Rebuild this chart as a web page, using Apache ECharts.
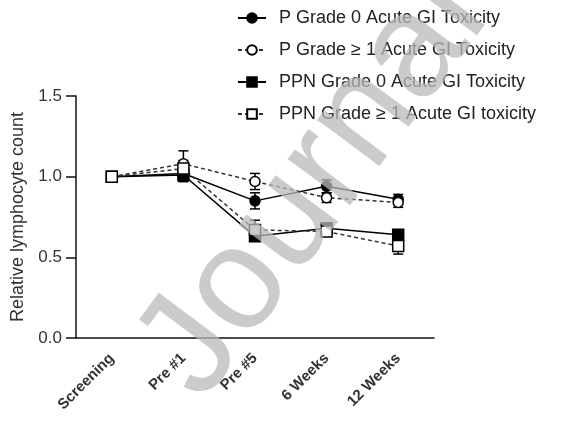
<!DOCTYPE html>
<html>
<head>
<meta charset="utf-8">
<script src="https://cdn.jsdelivr.net/npm/echarts@6/dist/echarts.min.js"></script>
<style>
  html, body { margin: 0; padding: 0; background: #fff; }
  #chart { width: 562px; height: 425px; }
</style>
</head>
<body>
<div id="chart"></div>
<script>
// Time points
const timepoints = ['Screening', 'Pre #1', 'Pre #5', '6 Weeks', '12 Weeks'];

// Series labels
const seriesNames = [
  'P Grade 0 Acute GI Toxicity',
  'P Grade \u2265 1 Acute GI Toxicity',
  'PPN Grade 0 Acute GI Toxicity',
  'PPN Grade \u2265 1 Acute GI toxicity'
];

// Mean relative lymphocyte count per group
const pGrade0 = [1.00, 1.02, 0.85, 0.94, 0.86];
const pGrade1 = [1.00, 1.08, 0.97, 0.87, 0.84];
const ppnGrade0 = [1.00, 1.01, 0.63, 0.68, 0.64];
const ppnGrade1 = [1.00, 1.05, 0.67, 0.66, 0.57];

// Standard error of each mean
const pGrade0Err = [0, 0.05, 0.05, 0.04, 0.03];
const pGrade1Err = [0, 0.08, 0.05, 0.03, 0.03];
const ppnGrade0Err = [0, 0.04, 0.03, 0.03, 0.03];
const ppnGrade1Err = [0, 0.05, 0.06, 0.03, 0.05];

// Y axis ticks
const yMin = 0, yMax = 1.5, yStep = 0.5;

const groups = [
  { name: seriesNames[0], values: pGrade0, err: pGrade0Err, symbol: 'circle', size: 10, fill: '#000', dashed: false },
  { name: seriesNames[1], values: pGrade1, err: pGrade1Err, symbol: 'circle', size: 10, fill: '#fff', dashed: true },
  { name: seriesNames[2], values: ppnGrade0, err: ppnGrade0Err, symbol: 'rect', size: 11, fill: '#000', dashed: false },
  { name: seriesNames[3], values: ppnGrade1, err: ppnGrade1Err, symbol: 'rect', size: 11, fill: '#fff', dashed: true }
];

const FONT = '"Liberation Sans", Arial, sans-serif';

// Vertical error bar with caps, positioned through the axis scales
function errorBarRenderer(params, api) {
  const i = api.value(0);
  const lo = api.coord([i, api.value(1)]);
  const hi = api.coord([i, api.value(2)]);
  const half = 5;
  const style = { stroke: '#000', lineWidth: 1.5 };
  return {
    type: 'group',
    children: [
      { type: 'line', shape: { x1: lo[0], y1: lo[1], x2: hi[0], y2: hi[1] }, style: style },
      { type: 'line', shape: { x1: lo[0] - half, y1: lo[1], x2: lo[0] + half, y2: lo[1] }, style: style },
      { type: 'line', shape: { x1: hi[0] - half, y1: hi[1], x2: hi[0] + half, y2: hi[1] }, style: style }
    ]
  };
}

const series = [];
groups.forEach(function (g) {
  const bars = g.values.map(function (v, i) {
    return [i, v - g.err[i], v + g.err[i]];
  }).filter(function (d, i) { return g.err[i] > 0; });
  series.push({
    type: 'custom',
    name: g.name + ' error',
    renderItem: errorBarRenderer,
    data: bars,
    z: 2,
    silent: true
  });
});
groups.forEach(function (g, k) {
  series.push({
    type: 'line',
    name: g.name,
    data: g.values,
    symbol: g.symbol,
    symbolSize: g.size,
    showAllSymbol: true,
    z: 3 + k,
    lineStyle: {
      color: g.dashed ? '#333' : '#000',
      width: 1.5,
      type: g.dashed ? [4, 3] : 'solid'
    },
    itemStyle: { color: g.fill, borderColor: '#000', borderWidth: 1.5 },
    animation: false
  });
});

const chart = echarts.init(document.getElementById('chart'), null, { renderer: 'canvas' });
chart.setOption({
  animation: false,
  backgroundColor: '#fff',
  grid: { left: 76, right: 128, top: 96, bottom: 87, containLabel: false },
  legend: {
    data: seriesNames,
    orient: 'vertical',
    left: 237,
    top: 9,
    padding: 0,
    itemWidth: 28,
    itemHeight: 12,
    itemGap: 14,
    textStyle: { fontFamily: FONT, fontSize: 18, color: '#222', padding: [0, 0, 0, 8] }
  },
  xAxis: {
    type: 'category',
    data: timepoints,
    boundaryGap: true,
    axisLine: { lineStyle: { color: '#111', width: 1.5 } },
    axisTick: { alignWithLabel: true, length: 9, lineStyle: { color: '#111', width: 1.5 } },
    axisLabel: {
      rotate: 45,
      margin: 18,
      interval: 0,
      fontFamily: FONT,
      fontSize: 15,
      fontWeight: 'bold',
      color: '#333'
    }
  },
  yAxis: {
    type: 'value',
    min: yMin,
    max: yMax,
    interval: yStep,
    name: 'Relative lymphocyte count',
    nameLocation: 'middle',
    nameGap: 49,
    nameTextStyle: { fontFamily: FONT, fontSize: 18, color: '#333' },
    splitLine: { show: false },
    axisLine: { show: true, lineStyle: { color: '#111', width: 1.5 } },
    axisTick: { show: true, length: 10, lineStyle: { color: '#111', width: 1.5 } },
    axisLabel: {
      fontFamily: FONT,
      fontSize: 17,
      color: '#333',
      margin: 14,
      formatter: function (v) { return v.toFixed(1); }
    }
  },
  graphic: [{
    type: 'text',
    x: 314,
    y: 186,
    rotation: 53.3 * Math.PI / 180,
    z: 100,
    silent: true,
    style: {
      text: 'Journal',
      fontFamily: FONT,
      fontSize: 147,
      fill: 'rgba(185,185,185,0.75)',
      textAlign: 'center',
      textVerticalAlign: 'middle',
      verticalAlign: 'middle'
    }
  }],
  series: series
});
</script>
</body>
</html>
